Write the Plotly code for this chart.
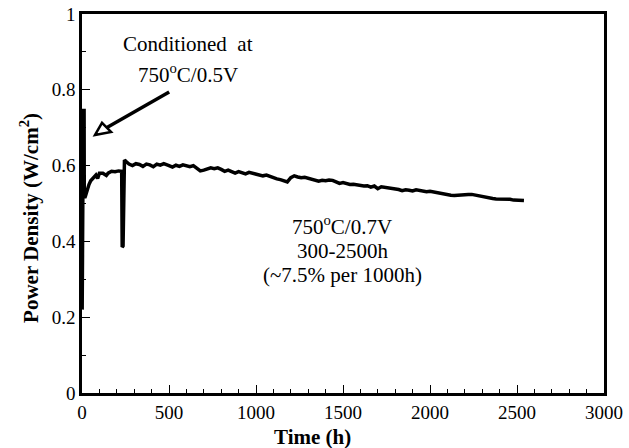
import plotly.graph_objects as go

# ---- data ----
time_h = [1, 2, 3, 4, 5, 6, 7, 8, 9, 10, 11, 12, 13, 14, 16, 20, 25, 30, 40, 50, 60, 70, 80, 90,
          100, 120, 140, 150, 170, 190, 210, 228, 231, 236, 244, 255, 270,
          290, 310, 330, 350, 370, 390, 410, 430, 450, 470, 500, 520, 540, 560, 580, 600,
          620, 640, 660, 680, 700, 720, 740, 760, 780, 800, 820, 840, 860, 880, 900, 920,
          940, 960, 980, 1000, 1020, 1040, 1060, 1080, 1100, 1120, 1140, 1160, 1180, 1200,
          1220, 1240, 1260, 1280, 1300, 1320, 1340, 1360, 1380, 1400, 1420, 1440, 1460,
          1480, 1500, 1520, 1540, 1560, 1580, 1600, 1620, 1640, 1660, 1680, 1700, 1720,
          1740, 1760, 1780, 1800, 1820, 1840, 1860, 1880, 1900, 1920, 1940, 1960, 1980,
          2000, 2020, 2040, 2060, 2080, 2100, 2120, 2140, 2160, 2180, 2200, 2220, 2240,
          2260, 2280, 2300, 2320, 2340, 2360, 2380, 2400, 2420, 2440, 2460, 2480, 2500,
          2520, 2540]
power = [0.22, 0.36, 0.50, 0.70, 0.53, 0.74, 0.52, 0.75, 0.53, 0.72, 0.52, 0.75, 0.54, 0.52, 0.515,
         0.52, 0.53, 0.54, 0.55, 0.56, 0.565, 0.57, 0.575, 0.566, 0.58, 0.58, 0.574, 0.58,
         0.585, 0.584, 0.586, 0.585, 0.385, 0.388, 0.615, 0.61, 0.604,
         0.600, 0.605, 0.603, 0.598, 0.604, 0.602, 0.597, 0.604, 0.601, 0.605, 0.600, 0.596,
         0.601, 0.598, 0.602, 0.599, 0.597, 0.600, 0.593, 0.586, 0.588, 0.591, 0.594, 0.592,
         0.594, 0.590, 0.585, 0.588, 0.583, 0.580, 0.584, 0.581, 0.578, 0.582, 0.580, 0.578,
         0.576, 0.573, 0.575, 0.571, 0.567, 0.565, 0.563, 0.560, 0.557, 0.568, 0.573, 0.570,
         0.568, 0.569, 0.566, 0.563, 0.561, 0.559, 0.561, 0.560, 0.562, 0.561, 0.557, 0.553,
         0.555, 0.552, 0.550, 0.551, 0.549, 0.548, 0.546, 0.547, 0.543, 0.546, 0.539, 0.544,
         0.543, 0.541, 0.540, 0.538, 0.537, 0.534, 0.536, 0.535, 0.533, 0.536, 0.534, 0.532,
         0.531, 0.532, 0.530, 0.529, 0.528, 0.526, 0.524, 0.522, 0.521, 0.522, 0.524, 0.525,
         0.524, 0.524, 0.522, 0.519, 0.517, 0.516, 0.514, 0.513, 0.512, 0.512, 0.511, 0.510,
         0.511, 0.509, 0.509, 0.508, 0.508]

x_ticks = [0, 500, 1000, 1500, 2000, 2500, 3000]
y_ticks = [0, 0.2, 0.4, 0.6, 0.8, 1]
y_tick_labels = ["0", "0.2", "0.4", "0.6", "0.8", "1"]

FONT = "Times New Roman, Liberation Serif, DejaVu Serif, serif"

fig = go.Figure()
fig.add_trace(go.Scatter(x=time_h, y=power, mode="lines",
                         line=dict(color="black", width=3.5), showlegend=False,
                         hoverinfo="skip"))

axis_common = dict(showgrid=False, zeroline=False, showline=True, linecolor="black",
                   linewidth=2.5, mirror=True, ticks="inside", ticklen=8, tickwidth=1,
                   tickcolor="black", automargin=False,
                   tickfont=dict(family=FONT, size=19, color="black"))

fig.update_xaxes(range=[0, 3000], tickvals=x_ticks,
                 minor=dict(dtick=100, ticks="inside", ticklen=4, tickcolor="black", tickwidth=1),
                 **axis_common)
fig.update_yaxes(range=[0, 1], tickvals=y_ticks, ticktext=y_tick_labels,
                 minor=dict(dtick=0.1, ticks="inside", ticklen=4, tickcolor="black", tickwidth=1),
                 **axis_common)

# axis titles
fig.add_annotation(text="<b>Time (h)</b>", xref="paper", yref="paper", x=0.4425, y=-0.116,
                   xanchor="center", yanchor="middle", showarrow=False,
                   font=dict(family=FONT, size=21, color="black"))
fig.add_annotation(text="<b>Power Density (W/cm<sup>2</sup>)</b>", xref="paper", yref="paper",
                   x=-0.0996, y=0.462, xanchor="center", yanchor="middle", textangle=-90,
                   showarrow=False, font=dict(family=FONT, size=21, color="black"))

# text labels
tfont = dict(family=FONT, size=21, color="black")
fig.add_annotation(text="Conditioned  at", x=610, y=0.921, showarrow=False, font=tfont)
fig.add_annotation(text="750<sup>o</sup>C/0.5V", x=610, y=0.842, showarrow=False, font=tfont)
fig.add_annotation(text="750<sup>o</sup>C/0.7V", x=1497, y=0.441, showarrow=False, font=tfont)
fig.add_annotation(text="300-2500h", x=1497, y=0.375, showarrow=False, font=tfont)
fig.add_annotation(text="(~7.5% per 1000h)", x=1497, y=0.311, showarrow=False, font=tfont)

# arrow: shaft + open triangle head
fig.add_shape(type="line", x0=501, y0=0.794, x1=141, y1=0.700,
              line=dict(color="black", width=3.5))
fig.add_shape(type="path", path="M 75,0.681 L 115,0.713 L 167,0.689 Z",
              fillcolor="white", line=dict(color="black", width=2.5))

fig.update_layout(width=629, height=448, margin=dict(l=82, r=25, t=14, b=55),
                  plot_bgcolor="white", paper_bgcolor="white",
                  font=dict(family=FONT, color="black"))

fig.write_html("out.html", config={"displayModeBar": False},
               post_script="document.body.style.margin='0';")
